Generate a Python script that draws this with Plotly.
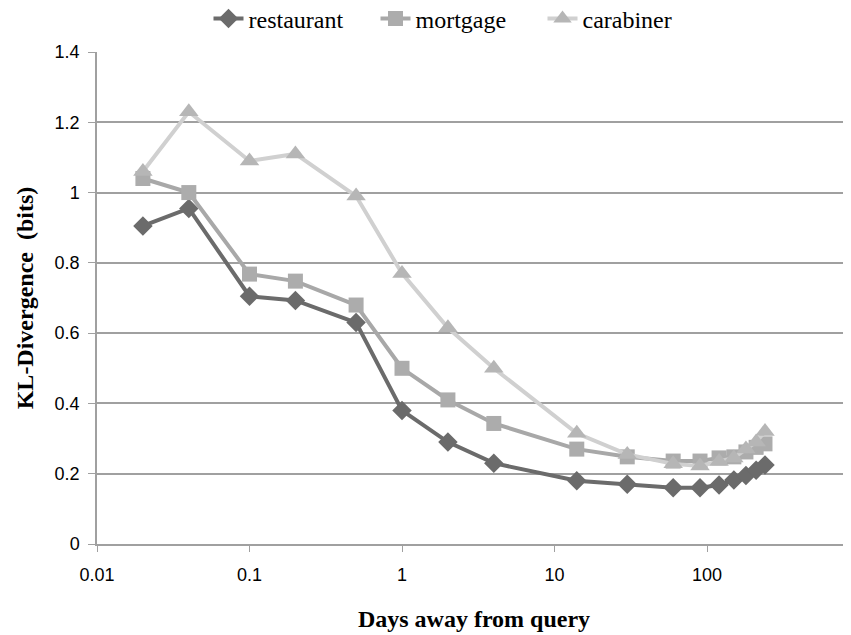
import plotly.graph_objects as go

days = [0.02, 0.04, 0.1, 0.2, 0.5, 1, 2, 4, 14, 30, 60, 90, 120, 150, 180, 210, 240]
restaurant = [0.905, 0.955, 0.705, 0.693, 0.63, 0.38, 0.29, 0.23, 0.18, 0.17, 0.16, 0.16, 0.168, 0.182, 0.195, 0.21, 0.225]
mortgage = [1.04, 1.0, 0.768, 0.748, 0.68, 0.50, 0.41, 0.343, 0.27, 0.248, 0.236, 0.236, 0.245, 0.248, 0.262, 0.275, 0.285]
carabiner = [1.06, 1.23, 1.09, 1.11, 0.99, 0.77, 0.615, 0.50, 0.315, 0.255, 0.228, 0.222, 0.235, 0.245, 0.27, 0.29, 0.32]

x_ticks = [0.01, 0.1, 1, 10, 100]
x_tick_labels = ["0.01", "0.1", "1", "10", "100"]
y_ticks = [0, 0.2, 0.4, 0.6, 0.8, 1, 1.2, 1.4]
y_tick_labels = ["0", "0.2", "0.4", "0.6", "0.8", "1", "1.2", "1.4"]

fig = go.Figure()
fig.add_trace(go.Scatter(x=days, y=restaurant, name="restaurant", mode="lines+markers",
                         line=dict(color="#6b6b6b", width=4),
                         marker=dict(symbol="diamond", size=15, color="#6b6b6b")))
fig.add_trace(go.Scatter(x=days, y=mortgage, name="mortgage", mode="lines+markers",
                         line=dict(color="#a8a8a8", width=4),
                         marker=dict(symbol="square", size=15, color="#acacac")))
fig.add_trace(go.Scatter(x=days, y=carabiner, name="carabiner", mode="lines+markers",
                         line=dict(color="#d0d0d0", width=4),
                         marker=dict(symbol="triangle-up", size=17, color="#b6b6b6")))

serif = "Liberation Serif"
tick_font = dict(family="Liberation Sans", size=18, color="#000")
W, H = 843, 627
fig.update_layout(
    width=W, height=H,
    font=dict(family=serif, size=24, color="#000"),
    paper_bgcolor="white", plot_bgcolor="white",
    margin=dict(l=89, r=0, t=44, b=91),
    showlegend=True,
    legend=dict(orientation="h", x=451 / W, xanchor="center",
                y=1 - 11 / H, yanchor="middle",
                xref="container", yref="container",
                entrywidth=122, entrywidthmode="pixels",
                font=dict(family=serif, size=24, color="#000"),
                bgcolor="rgba(0,0,0,0)"),
    xaxis=dict(type="log", range=[-2, 754 / 152.5 - 2],
               tickvals=x_ticks, ticktext=x_tick_labels, tickfont=tick_font,
               showgrid=False, zeroline=False, showline=True, linecolor="#a0a0a0", linewidth=1.5,
               ticks="outside", ticklen=6, tickcolor="#a0a0a0", ticklabelstandoff=8,
               title=dict(text="<b>Days away from query</b>",
                          font=dict(family=serif, size=24, color="#000"),
                          standoff=26)),
    yaxis=dict(range=[0, 1.4], tickvals=y_ticks, ticktext=y_tick_labels, tickfont=tick_font,
               showgrid=True, gridcolor="#a0a0a0", gridwidth=1.5, zeroline=False,
               showline=True, linecolor="#a0a0a0", linewidth=1.5,
               ticks="outside", ticklen=7, tickcolor="#a0a0a0", ticklabelstandoff=5,
               title=dict(text="<b>KL-Divergence  (bits)</b>",
                          font=dict(family=serif, size=24, color="#000"),
                          standoff=14)),
)
fig.write_html("out.html")
